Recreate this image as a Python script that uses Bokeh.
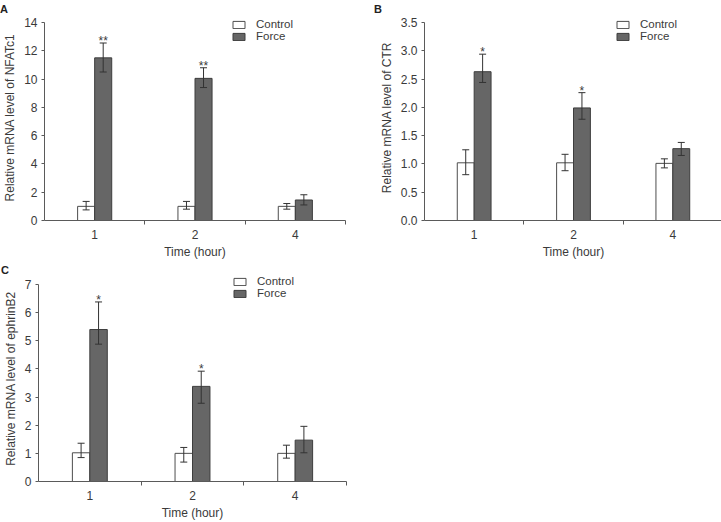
from bokeh.plotting import figure
from bokeh.layouts import column, row
from bokeh.models import (ColumnDataSource, Whisker, TeeHead, FixedTicker,
                          Legend, LegendItem, NumeralTickFormatter)
from bokeh.embed import file_html
from bokeh.resources import INLINE
from bokeh.core.properties import value

# Time points (hours)
times = ["1", "2", "4"]

# NFATc1 relative mRNA level
nfatc1_control = [1.0, 1.0, 1.0]
nfatc1_control_lo = [0.75, 0.8, 0.8]
nfatc1_control_hi = [1.35, 1.35, 1.2]
nfatc1_force = [11.5, 10.05, 1.45]
nfatc1_force_lo = [10.5, 9.4, 1.1]
nfatc1_force_hi = [12.55, 10.8, 1.82]
nfatc1_sig = ["**", "**", ""]

# CTR relative mRNA level
ctr_control = [1.02, 1.02, 1.01]
ctr_control_lo = [0.81, 0.88, 0.93]
ctr_control_hi = [1.25, 1.17, 1.09]
ctr_force = [2.63, 1.99, 1.27]
ctr_force_lo = [2.44, 1.79, 1.15]
ctr_force_hi = [2.94, 2.26, 1.38]
ctr_sig = ["*", "*", ""]

# ephrinB2 relative mRNA level
ephrinb2_control = [1.02, 1.0, 1.0]
ephrinb2_control_lo = [0.85, 0.69, 0.83]
ephrinb2_control_hi = [1.36, 1.21, 1.29]
ephrinb2_force = [5.4, 3.38, 1.47]
ephrinb2_force_lo = [4.88, 2.78, 1.02]
ephrinb2_force_hi = [6.38, 3.92, 1.96]
ephrinb2_sig = ["*", "*", ""]

FONT = "Liberation Sans"
TEXT = "#3a3a3a"
AXIS = "#5a5a5a"
FORCE_FILL = "#666666"
FORCE_LINE = "#3d3d3d"
CTRL_LINE = "#4d4d4d"
BAR_W = 0.17


def panel(letter, letter_x, ylabel, ymax, ystep, fmt,
          ctrl, ctrl_lo, ctrl_hi, force, force_lo, force_hi, sig,
          left, fw, right, top, fh, head, bottom, leg_x, leg_y,
          label_standoff):
    # the frame reaches 'head' px above the top tick so the legend fits inside it
    y_end = ymax * (fh + head) / fh
    p = figure(frame_width=fw, frame_height=fh + head,
               min_border_left=left, min_border_right=right,
               min_border_top=top - head, min_border_bottom=bottom,
               x_range=(0, len(times)), y_range=(0, y_end),
               output_backend="svg", toolbar_location=None, tools="")
    p.outline_line_color = None
    p.grid.visible = False
    p.background_fill_color = "white"
    p.border_fill_color = "white"

    # panel letter
    p.title.text = letter
    p.title.align = "left"
    p.title.offset = letter_x - left - 8
    p.title.standoff = 0
    p.title.vertical_align = "bottom"
    p.title.text_font = FONT
    p.title.text_font_size = "11px"
    p.title.text_font_style = "bold"
    p.title.text_color = "#222222"

    centers = [i + 0.5 for i in range(len(times))]
    src = ColumnDataSource(dict(
        xc=[c - BAR_W / 2 for c in centers],
        xf=[c + BAR_W / 2 for c in centers],
        ctrl=ctrl, ctrl_lo=ctrl_lo, ctrl_hi=ctrl_hi,
        force=force, force_lo=force_lo, force_hi=force_hi,
        sig=sig,
    ))

    rc = p.vbar(x="xc", top="ctrl", bottom=0, width=BAR_W, source=src,
                fill_color="white", line_color=CTRL_LINE, line_width=1)
    rf = p.vbar(x="xf", top="force", bottom=0, width=BAR_W, source=src,
                fill_color=FORCE_FILL, line_color=FORCE_LINE, line_width=1)

    for base, up, lo in (("xc", "ctrl_hi", "ctrl_lo"), ("xf", "force_hi", "force_lo")):
        w = Whisker(source=src, base=base, upper=up, lower=lo,
                    line_color="#333333", line_width=1, level="annotation",
                    upper_head=TeeHead(size=7, line_color="#333333", line_width=1),
                    lower_head=TeeHead(size=7, line_color="#333333", line_width=1))
        p.add_layout(w)

    p.text(x="xf", y="force_hi", text="sig", source=src,
           text_align="center", text_baseline="alphabetic", y_offset=-2,
           text_font=value(FONT), text_font_size="12px", text_color=TEXT)

    # x axis: category labels at centres, tick marks at category boundaries
    ax = p.xaxis[0]
    ax.ticker = FixedTicker(ticks=centers, minor_ticks=list(range(1, len(times) + 1)))
    ax.major_label_overrides = {c: t for c, t in zip(centers, times)}
    ax.major_tick_line_color = None
    ax.major_tick_out = 0
    ax.major_tick_in = 0
    ax.minor_tick_out = 4
    ax.minor_tick_in = 0
    ax.minor_tick_line_color = AXIS
    ax.axis_line_color = AXIS
    ax.major_label_standoff = 5
    ax.axis_label = "Time (hour)"
    ax.axis_label_standoff = 3

    ay = p.yaxis[0]
    n = int(round(ymax / ystep))
    ay.ticker = FixedTicker(ticks=[i * ystep for i in range(n + 1)], minor_ticks=[])
    ay.bounds = (0, ymax)
    ay.formatter = NumeralTickFormatter(format=fmt)
    ay.major_tick_out = 3
    ay.major_tick_in = 0
    ay.major_tick_line_color = AXIS
    ay.axis_line_color = AXIS
    ay.major_label_standoff = 4
    ay.axis_label = ylabel
    ay.axis_label_standoff = label_standoff

    for a in (ax, ay):
        a.major_label_text_font = FONT
        a.major_label_text_font_size = "12px"
        a.major_label_text_color = TEXT
        a.axis_label_text_font = FONT
        a.axis_label_text_font_size = "12px"
        a.axis_label_text_font_style = "normal"
        a.axis_label_text_color = TEXT

    legend = Legend(items=[LegendItem(label="Control", renderers=[rc]),
                           LegendItem(label="Force", renderers=[rf])],
                    location=(leg_x, leg_y),
                    glyph_width=15, glyph_height=9, label_height=9,
                    label_standoff=10, spacing=0, padding=0, margin=0,
                    label_text_font=FONT, label_text_font_size="11.5px",
                    label_text_color=TEXT,
                    border_line_color=None, background_fill_alpha=0)
    p.add_layout(legend)
    return p


pa = panel("A", 2.5, "Relative mRNA level of NFATc1", 14, 2, "0",
           nfatc1_control, nfatc1_control_lo, nfatc1_control_hi,
           nfatc1_force, nfatc1_force_lo, nfatc1_force_hi, nfatc1_sig,
           39, 301, 20, 21, 198, 8, 41, 187, 178, 4)

pb = panel("B", 16.5, "Relative mRNA level of CTR", 3.5, 0.5, "0.0",
           ctr_control, ctr_control_lo, ctr_control_hi,
           ctr_force, ctr_force_lo, ctr_force_hi, ctr_sig,
           59, 298, 4, 21, 198, 8, 41, 191, 178, 4)

pc = panel("C", 2.5, "Relative mRNA level of ephrinB2", 7, 1, "0",
           ephrinb2_control, ephrinb2_control_lo, ephrinb2_control_hi,
           ephrinb2_force, ephrinb2_force_lo, ephrinb2_force_hi, ephrinb2_sig,
           32, 308, 20, 22, 197, 9, 43, 194, 182, 4)

layout = column(row(pa, pb), pc)

with open("out.html", "w") as f:
    f.write(file_html(layout, INLINE))
